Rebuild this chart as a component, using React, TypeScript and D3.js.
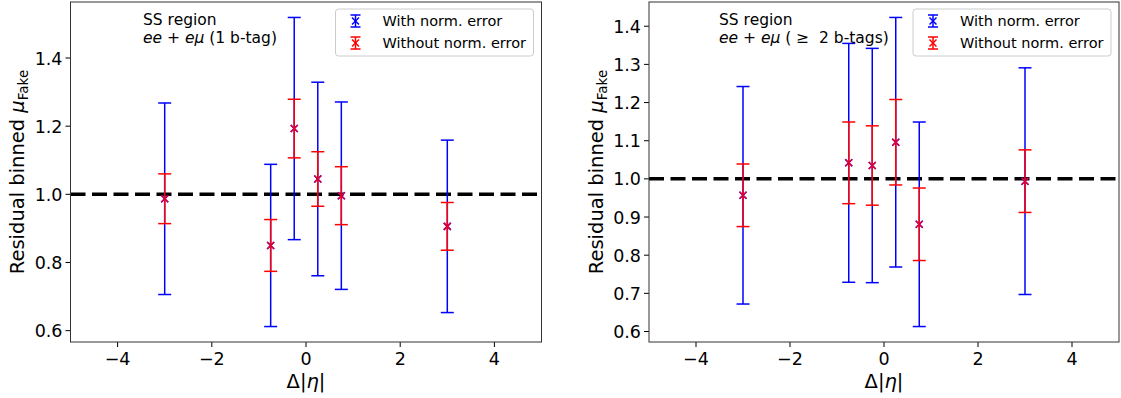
import React from "react";
import * as d3 from "d3";

const xPos = [-3, -0.75, -0.25, 0.25, 0.75, 3];

const leftCenter = [0.987, 0.85, 1.193, 1.045, 0.996, 0.906];
const leftErrNorm = [0.281, 0.238, 0.326, 0.284, 0.275, 0.253];
const leftErrStat = [0.073, 0.076, 0.086, 0.08, 0.085, 0.07];

const rightCenter = [0.957, 1.042, 1.035, 1.096, 0.881, 0.994];
const rightErrNorm = [0.285, 0.313, 0.307, 0.327, 0.268, 0.297];
const rightErrStat = [0.082, 0.107, 0.104, 0.112, 0.095, 0.082];

const xTicks = [-4, -2, 0, 2, 4];
const leftYTicks = [0.6, 0.8, 1.0, 1.2, 1.4];
const rightYTicks = [0.6, 0.7, 0.8, 0.9, 1.0, 1.1, 1.2, 1.3, 1.4];

const legendLabels = ["With norm. error", "Without norm. error"];
const FONT = "DejaVu Sans, sans-serif";
const BLUE = "#0000ff";
const RED = "#ff0000";

type PanelProps = {
  left: number;
  right: number;
  top: number;
  bottom: number;
  center: number[];
  errNorm: number[];
  errStat: number[];
  yTicks: number[];
  line2: React.ReactNode;
  textX: number;
};

function XMarker({ cx, cy, color }: { cx: number; cy: number; color: string }) {
  const s = 3.5;
  return (
    <g stroke={color} strokeWidth={1.5}>
      <line x1={cx - s} y1={cy - s} x2={cx + s} y2={cy + s} />
      <line x1={cx - s} y1={cy + s} x2={cx + s} y2={cy - s} />
    </g>
  );
}

function ErrBar({ x, y0, y1, color }: { x: number; y0: number; y1: number; color: string }) {
  const cap = 6.5;
  return (
    <g stroke={color} strokeWidth={1.5}>
      <line x1={x} x2={x} y1={y0} y2={y1} />
      <line x1={x - cap} x2={x + cap} y1={y0} y2={y0} />
      <line x1={x - cap} x2={x + cap} y1={y1} y2={y1} />
    </g>
  );
}

function Panel(p: PanelProps) {
  const x = d3.scaleLinear().domain([-5, 5]).range([p.left, p.right]);
  const lo = d3.min(p.center.map((c, i) => c - p.errNorm[i])) as number;
  const hi = d3.max(p.center.map((c, i) => c + p.errNorm[i])) as number;
  const m = (hi - lo) * 0.05;
  const y = d3.scaleLinear().domain([lo - m, hi + m]).range([p.bottom, p.top]);
  const fmt = d3.format(".1f");
  const midY = (p.top + p.bottom) / 2;
  const midX = (p.left + p.right) / 2;
  const legX = p.right - 206;
  const legY = p.top + 7;
  return (
    <g fontFamily={FONT}>
      <text
        transform={`translate(${p.left - 46.5},${midY}) rotate(-90)`}
        textAnchor="middle"
        fontSize={19.5}
        fill="#000"
      >
        Residual binned <tspan fontStyle="italic">μ</tspan>
        <tspan fontSize={13.5} dy={4}>Fake</tspan>
      </text>
      <text x={midX} y={388} textAnchor="middle" fontSize={19.5} fill="#000">
        Δ|<tspan fontStyle="italic">η</tspan>|
      </text>
      {xTicks.map((t) => (
        <g key={"x" + t}>
          <line x1={x(t)} x2={x(t)} y1={p.bottom} y2={p.bottom + 5} stroke="#000" strokeWidth={1} />
          <text x={x(t)} y={p.bottom + 23} textAnchor="middle" fontSize={17.5} fill="#000">
            {t < 0 ? "−" + Math.abs(t) : String(t)}
          </text>
        </g>
      ))}
      {p.yTicks.map((t) => (
        <g key={"y" + t}>
          <line x1={p.left - 5} x2={p.left} y1={y(t)} y2={y(t)} stroke="#000" strokeWidth={1} />
          <text x={p.left - 8} y={y(t) + 6.5} textAnchor="end" fontSize={17.5} fill="#000">
            {fmt(t)}
          </text>
        </g>
      ))}
      <line
        x1={p.left}
        x2={p.right}
        y1={y(1)}
        y2={y(1)}
        stroke="#000"
        strokeWidth={3.5}
        strokeDasharray="15,6.5"
      />
      {xPos.map((xv, i) => (
        <ErrBar key={"b" + i} x={x(xv)} y0={y(p.center[i] - p.errNorm[i])} y1={y(p.center[i] + p.errNorm[i])} color={BLUE} />
      ))}
      {xPos.map((xv, i) => (
        <XMarker key={"mb" + i} cx={x(xv)} cy={y(p.center[i])} color={BLUE} />
      ))}
      {xPos.map((xv, i) => (
        <ErrBar key={"r" + i} x={x(xv)} y0={y(p.center[i] - p.errStat[i])} y1={y(p.center[i] + p.errStat[i])} color={RED} />
      ))}
      {xPos.map((xv, i) => (
        <XMarker key={"mr" + i} cx={x(xv)} cy={y(p.center[i])} color="#e0003a" />
      ))}
      <text x={p.textX} y={p.top + 23} fontSize={15.5} fill="#000">SS region</text>
      <text x={p.textX} y={p.top + 41} fontSize={15.5} fill="#000">{p.line2}</text>
      <rect x={legX} y={legY} width={198} height={47} rx={3} fill="#fff" fillOpacity={0.8} stroke="#cccccc" strokeWidth={1} />
      {[BLUE, RED].map((c, k) => {
        const ly = legY + 12 + k * 22;
        const lx = legX + 20;
        return (
          <g key={"lg" + k}>
            <g stroke={c} strokeWidth={1.5}>
              <line x1={lx} x2={lx} y1={ly - 6} y2={ly + 6} />
              <line x1={lx - 5} x2={lx + 5} y1={ly - 6} y2={ly - 6} />
              <line x1={lx - 5} x2={lx + 5} y1={ly + 6} y2={ly + 6} />
            </g>
            <XMarker cx={lx} cy={ly} color={c} />
            <text x={legX + 47} y={ly + 5} fontSize={14.5} fill="#000">{legendLabels[k]}</text>
          </g>
        );
      })}
      <rect x={p.left} y={p.top} width={p.right - p.left} height={p.bottom - p.top} fill="none" stroke="#333" strokeWidth={1} />
    </g>
  );
}

export default function App() {
  return (
    <svg
      width={1121}
      height={398}
      style={{ position: "absolute", left: 0, top: 0, background: "#fff" }}
    >
      <rect x={0} y={0} width={1121} height={398} fill="#fff" />
      <Panel
        left={70.5}
        right={541.5}
        top={2}
        bottom={342}
        center={leftCenter}
        errNorm={leftErrNorm}
        errStat={leftErrStat}
        yTicks={leftYTicks}
        textX={143}
        line2={
          <>
            <tspan fontStyle="italic">ee</tspan> + <tspan fontStyle="italic">eμ</tspan> (1 b-tag)
          </>
        }
      />
      <Panel
        left={649}
        right={1119}
        top={2}
        bottom={342}
        center={rightCenter}
        errNorm={rightErrNorm}
        errStat={rightErrStat}
        yTicks={rightYTicks}
        textX={719}
        line2={
          <>
            <tspan fontStyle="italic">ee</tspan> + <tspan fontStyle="italic">eμ</tspan>{" (\u00a0≥\u00a0\u00a02 b-tags)"}
          </>
        }
      />
    </svg>
  );
}
